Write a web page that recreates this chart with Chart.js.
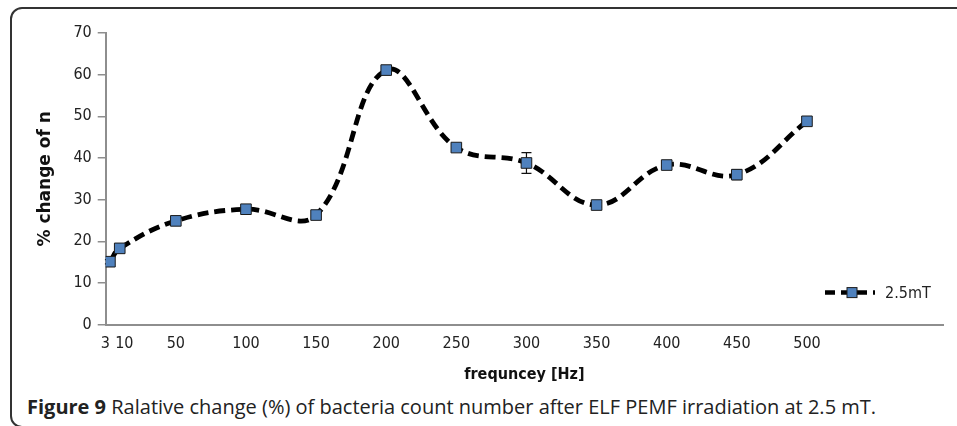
<!DOCTYPE html>
<html>
<head>
<meta charset="utf-8">
<script src="https://cdn.jsdelivr.net/npm/chart.js@4.4.0/dist/chart.umd.min.js"></script>
<style>
  body { margin: 0; background: #fff; width: 957px; height: 426px; overflow: hidden; position: relative; }
  #frame { position: absolute; left: 10px; top: 7px; width: 1000px; height: 421px; border: 2px solid #333; border-radius: 12px; box-sizing: border-box; }
  #wrap { position: absolute; left: 0; top: 0; width: 957px; height: 392px; }
  #caption { position: absolute; left: 27px; top: 397px; font-family: 'Open Sans', sans-serif; font-size: 20px; line-height: 20px; color: #222; white-space: nowrap; }
  #caption b { font-weight: 700; }
</style>
</head>
<body>
<div id="frame"></div>
<div id="wrap"><canvas id="freqChart"></canvas></div>
<div id="caption"><b>Figure 9</b> Ralative change (%) of bacteria count number after ELF PEMF irradiation at 2.5 mT.</div>

<script>
// PEMF frequency (Hz) vs. % change of bacteria count
const freqs = [3, 10, 50, 100, 150, 200, 250, 300, 350, 400, 450, 500];
const xTickLabels = ['3', '10', '50', '100', '150', '200', '250', '300', '350', '400', '450', '500'];
const changePct = [15.1, 18.3, 24.9, 27.7, 26.3, 61.1, 42.5, 38.8, 28.7, 38.3, 36.0, 48.8];
const changeErr = [0.5, 0.5, 0.5, 0.5, 0.5, 0.5, 0.8, 2.5, 0.5, 0.5, 1.2, 0.5];
const yTicks = [0, 10, 20, 30, 40, 50, 60, 70];
const seriesName = '2.5mT';

const axisGray = '#8e8e8e';
const markerBlue = '#4f81bd';
const tickFont = { family: "'DejaVu Sans Condensed', 'DejaVu Sans', sans-serif", size: 16 };

// vertical error bars, drawn under the markers
const errorBars = {
    id: 'errorBars',
    beforeDatasetsDraw(chart) {
        const ctx = chart.ctx;
        const y = chart.scales.y;
        const meta = chart.getDatasetMeta(0);
        ctx.save();
        ctx.strokeStyle = '#111';
        ctx.lineWidth = 1.2;
        meta.data.forEach((pt, i) => {
            const e = changeErr[i];
            if (!e) return;
            const top = y.getPixelForValue(changePct[i] + e);
            const bot = y.getPixelForValue(changePct[i] - e);
            ctx.beginPath();
            ctx.moveTo(pt.x, top); ctx.lineTo(pt.x, bot);
            ctx.moveTo(pt.x - 5, top); ctx.lineTo(pt.x + 5, top);
            ctx.moveTo(pt.x - 5, bot); ctx.lineTo(pt.x + 5, bot);
            ctx.stroke();
        });
        ctx.restore();
    }
};

// Excel-style legend: dashed line with a marker, inside the plot at the lower right
const lineLegend = {
    id: 'lineLegend',
    afterDraw(chart) {
        const ctx = chart.ctx;
        const area = chart.chartArea;
        const ds = chart.data.datasets[0];
        const x0 = area.right - 118;
        const yMid = area.bottom - 32;
        ctx.save();
        ctx.strokeStyle = '#000';
        ctx.lineWidth = 4.5;
        ctx.setLineDash([10, 6]);
        ctx.beginPath();
        ctx.moveTo(x0, yMid);
        ctx.lineTo(x0 + 50, yMid);
        ctx.stroke();
        ctx.setLineDash([]);
        ctx.fillStyle = markerBlue;
        ctx.fillRect(x0 + 22, yMid - 5, 10, 10);
        ctx.lineWidth = 1;
        ctx.strokeStyle = '#1a1a1a';
        ctx.strokeRect(x0 + 22, yMid - 5, 10, 10);
        ctx.fillStyle = '#222';
        ctx.font = `${tickFont.size}px ${tickFont.family}`;
        ctx.textBaseline = 'middle';
        ctx.fillText(ds.label, x0 + 60, yMid + 1);
        ctx.restore();
    }
};

const ctx = document.getElementById('freqChart').getContext('2d');

new Chart(ctx, {
    type: 'line',
    data: {
        datasets: [{
            label: seriesName,
            data: freqs.map((f, i) => ({ x: f, y: changePct[i] })),
            borderColor: '#000',
            borderWidth: 4.8,
            borderDash: [11, 6],
            tension: 0.4,
            fill: false,
            pointStyle: 'rect',
            pointRadius: 7.5,
            pointBackgroundColor: markerBlue,
            pointBorderColor: '#1a1a1a',
            pointBorderWidth: 1
        }]
    },
    options: {
        responsive: true,
        maintainAspectRatio: false,
        animation: false,
        layout: { padding: { left: 35, right: 14, top: 33, bottom: 8 } },
        plugins: {
            legend: { display: false },
            tooltip: { enabled: false }
        },
        scales: {
            x: {
                type: 'linear',
                min: 0,
                max: 597,
                afterBuildTicks: axis => {
                    axis.ticks = freqs.map(v => ({ value: v }));
                },
                ticks: {
                    autoSkip: false,
                    maxRotation: 0,
                    padding: 10,
                    color: '#222',
                    font: tickFont,
                    callback: (v, i) => {
                        const s = xTickLabels[i];
                        // 3 and 10 nearly share a spot, push them apart
                        if (v === 3) return s + '  ';
                        if (v === 10) return '  ' + s;
                        return s;
                    }
                },
                grid: { display: false, drawTicks: false },
                border: { color: axisGray, width: 2 },
                title: {
                    display: true,
                    text: 'frequncey [Hz]',
                    color: '#111',
                    font: { family: "'DejaVu Sans Condensed', 'DejaVu Sans', sans-serif", size: 16, weight: 'bold' },
                    padding: { top: 1, bottom: 0 }
                }
            },
            y: {
                min: 0,
                max: 70,
                afterBuildTicks: axis => {
                    axis.ticks = yTicks.map(v => ({ value: v }));
                },
                ticks: { padding: 6, color: '#222', font: tickFont },
                grid: { drawOnChartArea: false, drawTicks: true, tickLength: 8, color: axisGray, lineWidth: 1.5 },
                border: { color: axisGray, width: 2 },
                title: {
                    display: true,
                    text: '% change of n',
                    color: '#111',
                    font: { family: "'DejaVu Sans', sans-serif", size: 17, weight: 'bold' },
                    padding: { top: 0, bottom: 12 }
                }
            }
        }
    },
    plugins: [errorBars, lineLegend]
});
</script>
</body>
</html>
